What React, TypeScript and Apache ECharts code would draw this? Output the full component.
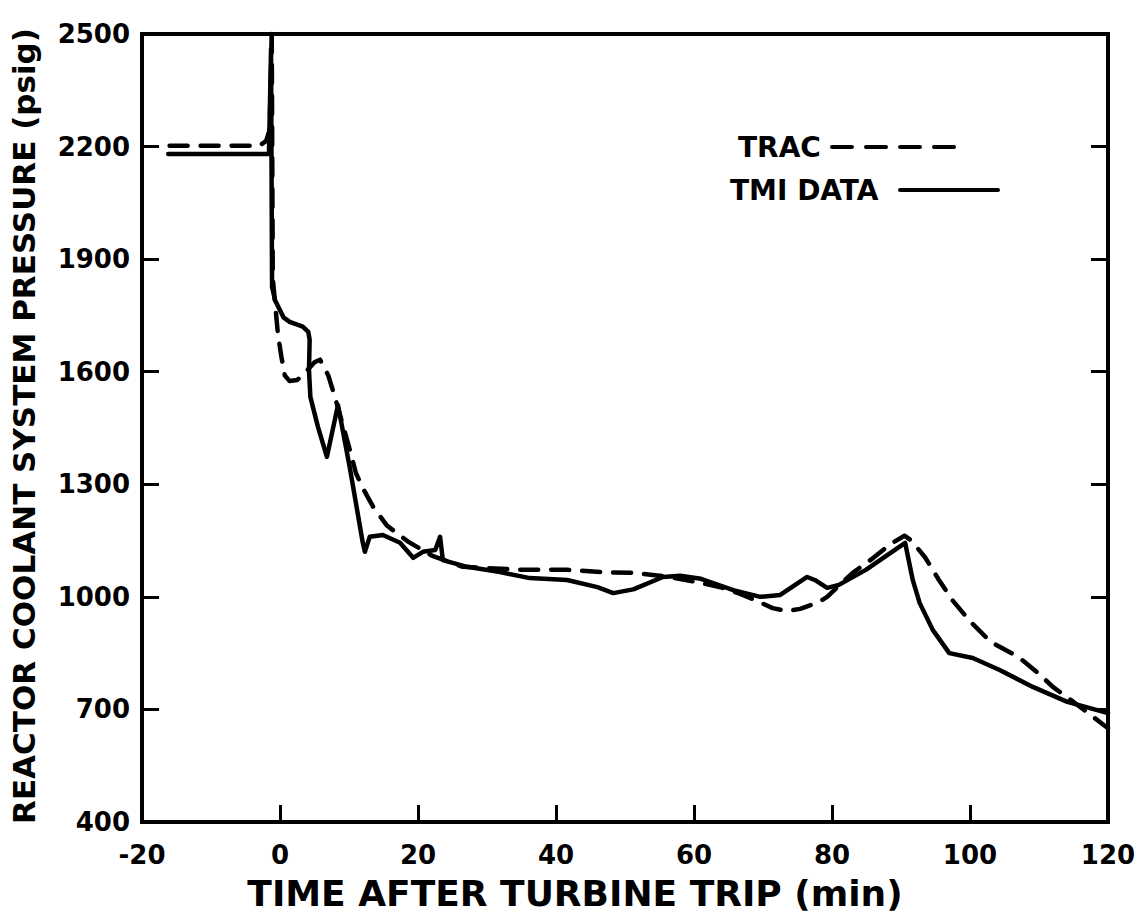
import React, { useEffect, useRef } from "react";
import * as echarts from "echarts";

// TMI DATA (solid)
const tmiX = [-16.2, -1.6, -1.3, -1.15, -0.7, 0.5, 1.4, 3.3, 4.1, 4.3, 4.2, 4.4, 5.5, 6.8, 8.4, 9.0, 10.1, 12.0, 12.3, 13.0, 14.9, 17.4, 19.3, 20.7, 22.5, 23.2, 23.6, 27.1, 31.9, 36.2, 41.6, 46.0, 48.3, 51.2, 55.5, 58.0, 61.0, 65.7, 69.6, 72.5, 74.5, 76.4, 77.5, 79.3, 81.0, 84.9, 90.6, 91.7, 92.7, 94.6, 97.0, 100.4, 104.3, 109.1, 114.1, 120.0];
const tmiY = [2180, 2180, 2460, 1826, 1790, 1745, 1733, 1720, 1706, 1685, 1605, 1533, 1453, 1373, 1511, 1453, 1346, 1144, 1120, 1160, 1165, 1144, 1104, 1120, 1125, 1160, 1098, 1080, 1066, 1050, 1045, 1026, 1010, 1020, 1053, 1056, 1048, 1018, 1000, 1005, 1030, 1053, 1045, 1024, 1032, 1072, 1144, 1045, 984, 912, 850, 837, 805, 760, 720, 690];

// TRAC (dashed)
const tracX = [-16.0, -3.0, -2.0, -1.5, -1.3, -1.2, -1.05, -0.6, -0.3, 0.2, 0.7, 1.4, 2.5, 3.5, 5.0, 5.8, 7.0, 8.0, 10.0, 11.0, 12.0, 13.5, 15.5, 18.5, 22.0, 26.5, 35.0, 41.6, 46.4, 51.2, 56.5, 61.0, 64.0, 66.7, 69.0, 71.4, 73.5, 75.4, 78.0, 79.3, 81.0, 83.0, 86.0, 88.4, 90.5, 91.5, 93.5, 95.5, 97.5, 100.0, 103.0, 107.0, 110.0, 112.0, 115.0, 120.0];
const tracY = [2202, 2202, 2215, 2245, 2400, 2515, 1850, 1760, 1700, 1640, 1590, 1575, 1578, 1595, 1625, 1632, 1590, 1530, 1400, 1330, 1290, 1240, 1190, 1148, 1110, 1080, 1072, 1072, 1066, 1064, 1053, 1037, 1025, 1008, 990, 970, 962, 968, 985, 1000, 1030, 1064, 1104, 1140, 1163, 1150, 1105, 1045, 990, 935, 880, 840, 795, 760, 720, 650];

const xTickValues = [0, 20, 40, 60, 80, 100];
const yLabelValues = [400, 700, 1000, 1300, 1600, 1900, 2200, 2500];
const yTickValues = [700, 1000, 1300, 1600, 1900, 2200];

const FONT = "'DejaVu Sans', sans-serif";

export default function App() {
  const ref = useRef<HTMLDivElement>(null);
  useEffect(() => {
    if (!ref.current) return;
    const chart = echarts.init(ref.current, null, { renderer: "svg" });
    const tmi = tmiX.map((x, i) => [x, tmiY[i]]);
    const trac = tracX.map((x, i) => [x, tracY[i]]);
    const axisLine = { show: true, onZero: false, lineStyle: { color: "#000", width: 4 } };
    const label = { color: "#000", fontSize: 26, fontWeight: "bold", fontFamily: FONT, formatter: (v: number) => String(v) };
    chart.setOption({
      animation: false,
      backgroundColor: "#fff",
      grid: { left: 142, right: 32, top: 34, bottom: 98, show: true, borderColor: "#000", borderWidth: 4, backgroundColor: "transparent" },
      xAxis: {
        type: "value",
        min: -20,
        max: 120,
        interval: 20,
        axisLine,
        axisTick: { show: true, inside: true, length: 17, customValues: xTickValues, lineStyle: { color: "#000", width: 3 } },
        axisLabel: { ...label, margin: 20 },
        splitLine: { show: false },
      },
      yAxis: [
        {
          type: "value",
          position: "left",
          min: 400,
          max: 2500,
          axisLine,
          axisTick: { show: true, inside: true, length: 17, customValues: yTickValues, lineStyle: { color: "#000", width: 3 } },
          axisLabel: { ...label, margin: 12, customValues: yLabelValues },
          splitLine: { show: false },
        },
        {
          type: "value",
          position: "right",
          min: 400,
          max: 2500,
          axisLine,
          axisTick: { show: true, inside: true, length: 17, customValues: yTickValues, lineStyle: { color: "#000", width: 3 } },
          axisLabel: { show: false, customValues: yLabelValues },
          splitLine: { show: false },
        },
      ],
      series: [
        {
          name: "TRAC",
          type: "line",
          data: trac,
          showSymbol: false,
          symbol: "none",
          clip: false,
          lineStyle: { color: "#000", width: 4.5, type: [18, 13], cap: "round", join: "round" },
        },
        {
          name: "TMI DATA",
          type: "line",
          data: tmi,
          showSymbol: false,
          symbol: "none",
          clip: false,
          lineStyle: { color: "#000", width: 4.5, cap: "round", join: "round" },
        },
      ],
      graphic: [
        { type: "text", x: 575, y: 893, style: { text: "TIME AFTER TURBINE TRIP (min)", fill: "#000", font: `bold 36px ${FONT}`, align: "center", verticalAlign: "middle" } },
        { type: "text", x: 24, y: 426, rotation: Math.PI / 2, style: { text: "REACTOR COOLANT SYSTEM PRESSURE (psig)", fill: "#000", font: `bold 31px ${FONT}`, align: "center", verticalAlign: "middle" } },
        { type: "text", x: 738, y: 147, style: { text: "TRAC", fill: "#000", font: `bold 28px ${FONT}`, verticalAlign: "middle" } },
        { type: "line", shape: { x1: 832, y1: 147, x2: 962, y2: 147 }, style: { stroke: "#000", lineWidth: 4, lineDash: [20, 14], lineCap: "round" } },
        { type: "text", x: 730, y: 190, style: { text: "TMI DATA", fill: "#000", font: `bold 28px ${FONT}`, verticalAlign: "middle" } },
        { type: "line", shape: { x1: 900, y1: 190, x2: 998, y2: 190 }, style: { stroke: "#000", lineWidth: 4, lineCap: "round" } },
      ],
    });
    return () => chart.dispose();
  }, []);
  return <div ref={ref} style={{ position: "fixed", left: 0, top: 0, width: 1140, height: 920, background: "#fff" }} />;
}
